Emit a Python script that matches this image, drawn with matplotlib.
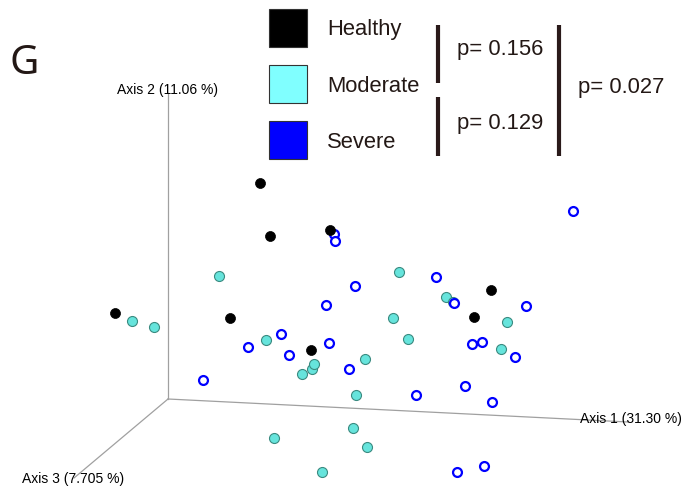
import matplotlib.pyplot as plt

# projected PCoA coordinates (screen space of the 3D view)
healthy_x = [260, 270, 330, 115, 230, 311, 491, 474]
healthy_y = [183, 236, 230, 313, 318, 350, 290, 317]

moderate_x = [132, 154, 219, 266, 302, 312, 314, 356, 365, 393,
              399, 408, 446, 453, 507, 501, 353, 367, 274, 322]
moderate_y = [321, 327, 276, 340, 374, 369, 364, 395, 359, 318,
              272, 339, 297, 302, 322, 349, 428, 447, 438, 472]

severe_x = [334, 335, 355, 326, 281, 248, 289, 329, 349, 203, 416,
            573, 436, 454, 526, 472, 482, 515, 465, 492, 457, 484]
severe_y = [234, 241, 286, 305, 334, 347, 355, 343, 369, 380, 395,
            211, 277, 303, 306, 344, 342, 357, 386, 402, 472, 466]

groups = ["Healthy", "Moderate", "Severe"]
group_colors = ["#000000", "#80ffff", "#0000ff"]
p_values = ["p= 0.156", "p= 0.129", "p= 0.027"]

TXT = "#231815"

fig = plt.figure(figsize=(6.87, 4.88), dpi=100)
ax = fig.add_axes([0, 0, 1, 1])
ax.set_xlim(0, 687)
ax.set_ylim(488, 0)
ax.axis("off")

# axes of the 3D view
origin = (168, 399)
ax.plot([origin[0], 168], [origin[1], 93], color="#a0a0a0", lw=0.9, zorder=1)
ax.plot([origin[0], 628], [origin[1], 422], color="#a0a0a0", lw=0.9, zorder=1)
ax.plot([origin[0], 74], [origin[1], 478], color="#a0a0a0", lw=0.9, zorder=1)

ax.text(117, 90, "Axis 2 (11.06 %)", family="Liberation Sans", fontsize=10,
        va="center", ha="left", zorder=5)
ax.text(580, 419, "Axis 1 (31.30 %)", family="Liberation Sans", fontsize=10,
        va="center", ha="left", zorder=5)
ax.text(22, 479, "Axis 3 (7.705 %)", family="Liberation Sans", fontsize=10,
        va="center", ha="left", zorder=5)

# samples
ax.plot(moderate_x, moderate_y, "o", ms=7.2, mfc="#66e4dc", mec="#3a8a80",
        mew=0.8, zorder=2)
ax.plot(severe_x, severe_y, "o", ms=6.4, mfc="white", mec="#0000ff",
        mew=1.6, zorder=3)
ax.plot(healthy_x, healthy_y, "o", ms=7.2, mfc="#000000", mec="#000000",
        mew=0.5, zorder=4)

# legend boxes
box_y = [28, 84, 140]
for name, col, yc in zip(groups, group_colors, box_y):
    ax.add_patch(plt.Rectangle((269, yc - 19), 38, 38, facecolor=col,
                               edgecolor="#333333", lw=0.8, zorder=5))
    ax.text(327, yc + 2, name, family="Liberation Sans", fontsize=15.8,
            color=TXT, va="center", ha="left", zorder=5)

# significance brackets
ax.plot([438, 438], [25, 83], color="#2a1a1a", lw=3, solid_capstyle="butt")
ax.plot([438, 438], [97, 156], color="#2a1a1a", lw=3, solid_capstyle="butt")
ax.plot([559, 559], [25, 156], color="#2a1a1a", lw=3, solid_capstyle="butt")
ax.text(457, 49, p_values[0], family="Liberation Sans", fontsize=15.8,
        color=TXT, va="center", ha="left")
ax.text(457, 123, p_values[1], family="Liberation Sans", fontsize=15.8,
        color=TXT, va="center", ha="left")
ax.text(578, 87, p_values[2], family="Liberation Sans", fontsize=15.8,
        color=TXT, va="center", ha="left")

ax.text(10, 64, "G", family="Noto Sans", fontsize=29, color=TXT,
        va="center", ha="left")

fig.savefig("out.png", dpi=100)
